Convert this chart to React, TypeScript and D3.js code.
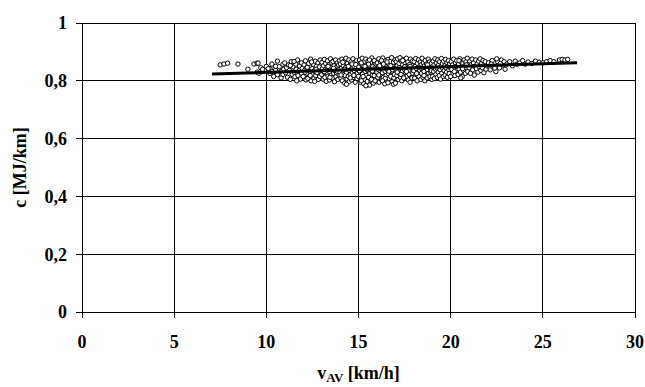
import React from "react";
import * as d3 from "d3";

const xTicks = [0, 5, 10, 15, 20, 25, 30];
const yTicks = [0, 0.2, 0.4, 0.6, 0.8, 1];
const yTickLabels = ["0", "0,2", "0,4", "0,6", "0,8", "1"];

// trend line end points [v, c]
const trendLine: [number, number][] = [[7.05, 0.8235], [26.86, 0.8627]];

// observations [v_AV km/h, c MJ/km]
const lowSpeedPoints: [number, number][] = [
  [7.5,.855],[7.7,.858],[7.9,.861],[8.46,.858],[9.0,.84],[9.33,.858],[9.5,.861],[9.55,.861],
  [9.5,.83],[9.7,.845],[9.9,.838],[10.0,.85],[10.2,.842],[10.4,.832],[9.6,.826],[9.8,.84],
];
const band10to13: [number, number][] = [
  [10.1,.842],[10.2,.826],[10.3,.858],[10.4,.815],[10.5,.836],[10.6,.868],[10.6,.821],[10.7,.849],[10.8,.81],[10.8,.833],[10.9,.857],[10.95,.84],[10.5,.85],[10.3,.832],[10.9,.822],
  [11.0,.862],[11.05,.828],[11.1,.845],[11.15,.812],[11.2,.855],[11.25,.836],[11.3,.805],[11.35,.866],[11.4,.822],[11.45,.848],[11.5,.83],[11.55,.814],[11.6,.858],[11.62,.84],[11.7,.872],[11.72,.818],[11.78,.835],[11.8,.851],[11.85,.806],[11.9,.862],[11.92,.826],[11.95,.843],[11.3,.853],[11.5,.867],[11.65,.8],
  [12.0,.815],[12.05,.855],[12.08,.836],[12.12,.869],[12.15,.803],[12.2,.826],[12.22,.847],[12.28,.812],[12.3,.86],[12.35,.833],[12.4,.875],[12.42,.8],[12.48,.842],[12.5,.821],[12.55,.857],[12.58,.808],[12.6,.835],[12.65,.868],[12.68,.818],[12.72,.85],[12.75,.828],[12.8,.862],[12.82,.805],[12.85,.84],[12.9,.815],[12.92,.872],[12.95,.832],[12.98,.855],[12.1,.83],[12.45,.865],[12.7,.84],[12.25,.808],[12.88,.848],[12.38,.818],[12.62,.798],
];
const band13to16: [number, number][] = [
  [13.0,.822],[13.02,.864],[13.05,.843],[13.08,.806],[13.1,.852],[13.12,.83],[13.15,.874],[13.18,.812],[13.2,.838],[13.22,.86],[13.25,.798],[13.28,.826],[13.3,.848],[13.32,.869],[13.35,.816],[13.38,.836],[13.4,.856],[13.42,.803],[13.45,.83],[13.48,.876],[13.5,.845],[13.52,.82],[13.55,.862],[13.58,.81],[13.6,.84],[13.62,.867],[13.65,.826],[13.68,.852],[13.7,.797],[13.72,.834],[13.75,.872],[13.78,.815],[13.8,.846],[13.82,.827],[13.85,.862],[13.88,.805],[13.9,.84],[13.92,.855],[13.95,.82],[13.98,.87],[13.15,.832],[13.45,.812],[13.65,.843],[13.85,.833],[13.35,.85],
  [14.0,.83],[14.02,.858],[14.05,.81],[14.08,.843],[14.1,.875],[14.12,.8],[14.15,.825],[14.18,.852],[14.2,.836],[14.22,.868],[14.25,.792],[14.28,.818],[14.3,.846],[14.32,.878],[14.35,.83],[14.38,.806],[14.4,.86],[14.42,.84],[14.45,.815],[14.48,.872],[14.5,.797],[14.52,.835],[14.55,.855],[14.58,.822],[14.6,.866],[14.62,.803],[14.65,.843],[14.68,.828],[14.7,.876],[14.72,.812],[14.75,.85],[14.78,.834],[14.8,.864],[14.82,.795],[14.85,.823],[14.88,.845],[14.9,.87],[14.92,.808],[14.95,.838],[14.98,.858],[14.15,.864],[14.35,.788],[14.55,.81],[14.75,.819],[14.95,.826],[14.25,.84],[14.45,.85],[14.65,.858],[14.85,.856],[14.05,.82],
  [15.0,.815],[15.02,.848],[15.05,.872],[15.08,.83],[15.1,.795],[15.12,.86],[15.15,.838],[15.18,.81],[15.2,.878],[15.22,.823],[15.25,.852],[15.28,.79],[15.3,.842],[15.32,.866],[15.35,.805],[15.38,.832],[15.4,.875],[15.42,.818],[15.45,.856],[15.48,.798],[15.5,.836],[15.52,.868],[15.55,.812],[15.58,.845],[15.6,.785],[15.62,.826],[15.65,.862],[15.68,.8],[15.7,.84],[15.72,.879],[15.75,.82],[15.78,.85],[15.8,.792],[15.82,.833],[15.85,.87],[15.88,.808],[15.9,.846],[15.92,.825],[15.95,.858],[15.98,.797],[15.05,.835],[15.25,.815],[15.45,.84],[15.65,.838],[15.85,.818],[15.15,.862],[15.35,.85],[15.55,.858],[15.75,.834],[15.95,.842],[15.4,.783],[15.7,.805],[15.9,.8],[15.15,.8],[15.6,.872],
];
const band16to19: [number, number][] = [
  [16.0,.83],[16.02,.862],[16.05,.812],[16.08,.848],[16.1,.876],[16.12,.795],[16.15,.836],[16.18,.82],[16.2,.866],[16.22,.843],[16.25,.803],[16.28,.855],[16.3,.828],[16.32,.879],[16.35,.812],[16.38,.84],[16.4,.86],[16.42,.79],[16.45,.833],[16.48,.87],[16.5,.818],[16.52,.85],[16.55,.8],[16.58,.838],[16.6,.874],[16.62,.825],[16.65,.857],[16.68,.808],[16.7,.845],[16.72,.867],[16.75,.815],[16.78,.835],[16.8,.88],[16.82,.797],[16.85,.852],[16.88,.828],[16.9,.864],[16.92,.81],[16.95,.842],[16.98,.872],[16.05,.84],[16.25,.87],[16.45,.808],[16.65,.833],[16.85,.838],[16.15,.852],[16.35,.858],[16.55,.865],[16.75,.852],[16.95,.822],[16.3,.8],[16.6,.793],[16.9,.788],[16.1,.82],[16.5,.842],
  [17.0,.792],[17.02,.84],[17.05,.866],[17.08,.818],[17.1,.852],[17.12,.876],[17.15,.805],[17.18,.835],[17.2,.86],[17.22,.825],[17.25,.88],[17.28,.812],[17.3,.845],[17.32,.868],[17.35,.8],[17.38,.832],[17.4,.856],[17.42,.818],[17.45,.873],[17.48,.84],[17.5,.808],[17.52,.862],[17.55,.828],[17.58,.85],[17.6,.878],[17.62,.815],[17.65,.838],[17.68,.865],[17.7,.803],[17.72,.845],[17.75,.822],[17.78,.857],[17.8,.795],[17.82,.875],[17.85,.834],[17.88,.812],[17.9,.852],[17.92,.868],[17.95,.826],[17.98,.842],[17.1,.83],[17.3,.822],[17.5,.848],[17.7,.836],[17.9,.81],[17.2,.845],[17.4,.87],[17.6,.832],[17.8,.85],[17.45,.81],
  [18.0,.835],[18.02,.866],[18.05,.81],[18.08,.85],[18.1,.877],[18.12,.822],[18.15,.842],[18.18,.8],[18.2,.86],[18.22,.83],[18.25,.872],[18.28,.815],[18.3,.848],[18.32,.836],[18.35,.865],[18.38,.805],[18.4,.855],[18.42,.826],[18.45,.878],[18.48,.84],[18.5,.812],[18.52,.862],[18.55,.832],[18.58,.852],[18.6,.8],[18.62,.87],[18.65,.82],[18.68,.845],[18.7,.858],[18.72,.81],[18.75,.838],[18.78,.875],[18.8,.826],[18.82,.85],[18.85,.865],[18.88,.815],[18.9,.842],[18.92,.83],[18.95,.86],[18.98,.805],[18.15,.825],[18.35,.845],[18.55,.818],[18.75,.855],[18.95,.835],
];
const band19to27: [number, number][] = [
  [19.0,.848],[19.02,.815],[19.05,.868],[19.08,.832],[19.1,.855],[19.12,.808],[19.15,.876],[19.18,.84],[19.2,.822],[19.22,.862],[19.25,.845],[19.28,.812],[19.3,.872],[19.32,.83],[19.35,.855],[19.38,.818],[19.4,.866],[19.42,.838],[19.45,.806],[19.48,.85],[19.5,.877],[19.52,.826],[19.55,.86],[19.58,.842],[19.6,.815],[19.62,.868],[19.65,.835],[19.68,.852],[19.7,.82],[19.72,.874],[19.75,.845],[19.78,.83],[19.8,.862],[19.82,.812],[19.85,.85],[19.88,.87],[19.9,.838],[19.92,.825],[19.95,.858],[19.98,.845],
  [20.0,.815],[20.03,.866],[20.06,.84],[20.1,.855],[20.13,.826],[20.16,.875],[20.2,.848],[20.23,.818],[20.26,.862],[20.3,.835],[20.33,.87],[20.36,.852],[20.4,.822],[20.43,.858],[20.46,.84],[20.5,.876],[20.53,.83],[20.56,.865],[20.6,.848],[20.63,.815],[20.66,.86],[20.7,.836],[20.73,.872],[20.76,.852],[20.8,.826],[20.83,.866],[20.86,.845],[20.9,.878],[20.93,.832],[20.96,.858],[20.2,.832],[20.45,.87],[20.65,.842],[20.85,.855],[20.55,.81],
  [21.0,.845],[21.04,.868],[21.08,.826],[21.12,.856],[21.16,.875],[21.2,.838],[21.24,.862],[21.28,.82],[21.32,.85],[21.36,.872],[21.4,.842],[21.44,.858],[21.48,.83],[21.52,.868],[21.56,.848],[21.6,.876],[21.64,.836],[21.68,.86],[21.72,.845],[21.76,.87],[21.8,.828],[21.84,.856],[21.88,.866],[21.92,.84],[21.96,.852],
  [22.05,.862],[22.15,.838],[22.25,.87],[22.35,.85],[22.45,.832],[22.55,.866],[22.65,.845],[22.75,.872],[22.85,.855],[22.95,.84],[22.2,.858],[22.5,.876],[22.7,.86],[22.9,.866],[22.4,.844],
  [23.05,.858],[23.2,.866],[23.35,.852],[23.5,.868],[23.6,.857],[23.75,.862],[23.9,.87],[24.05,.858],[24.2,.865],
  [24.4,.86],[24.6,.868],[24.8,.864],[25.0,.862],[25.2,.866],[25.4,.87],[25.6,.866],[25.9,.872],[26.05,.874],[26.2,.872],[26.35,.874],
];

const points = [...lowSpeedPoints, ...band10to13, ...band13to16, ...band16to19, ...band19to27];

const W = 645, H = 387;
const M = { left: 82, right: 10, top: 23, bottom: 75 };
const FONT = "'Liberation Serif', 'Times New Roman', serif";

export default function App() {
  const x = d3.scaleLinear().domain([0, 30]).range([M.left, W - M.right]);
  const y = d3.scaleLinear().domain([0, 1]).range([H - M.bottom, M.top]);
  const line = d3.line<[number, number]>().x(d => x(d[0])).y(d => y(d[1]));
  const x0 = x(0), x1 = x(30), y0 = y(0), y1 = y(1);
  return (
    <svg width={W} height={H} style={{ position: "absolute", left: 0, top: 0, background: "#fff" }}>
      <rect x={0} y={0} width={W} height={H} fill="#fff" />
      {xTicks.map(t => (
        <line key={"gx" + t} x1={x(t)} x2={x(t)} y1={y1} y2={y0 + 6} stroke="#000" strokeWidth={1} shapeRendering="crispEdges" />
      ))}
      {yTicks.map(t => (
        <line key={"gy" + t} x1={x0 - 6} x2={x1} y1={y(t)} y2={y(t)} stroke="#000" strokeWidth={1} shapeRendering="crispEdges" />
      ))}
      <rect x={x0} y={y1} width={x1 - x0} height={y0 - y1} fill="none" stroke="#000" strokeWidth={1} shapeRendering="crispEdges" />
      {points.map((p, i) => (
        <circle key={i} cx={x(p[0])} cy={y(p[1])} r={2.2} fill="#fff" stroke="#000" strokeWidth={1} />
      ))}
      <path d={line(trendLine) || ""} fill="none" stroke="#000" strokeWidth={3} />
      {yTicks.map((t, i) => (
        <text key={"ty" + t} x={67} y={y(t)} dy="0.35em" textAnchor="end" fontFamily={FONT} fontWeight="bold" fontSize={18}>{yTickLabels[i]}</text>
      ))}
      {xTicks.map(t => (
        <text key={"tx" + t} x={x(t)} y={348} textAnchor="middle" fontFamily={FONT} fontWeight="bold" fontSize={18}>{t}</text>
      ))}
      <text x={(x0 + x1) / 2} y={379} textAnchor="middle" fontFamily={FONT} fontWeight="bold" fontSize={18}>
        v<tspan fontSize={13} dy={3}>AV</tspan><tspan dy={-3}> [km/h]</tspan>
      </text>
      <text transform={`translate(26,${(y0 + y1) / 2}) rotate(-90)`} textAnchor="middle" fontFamily={FONT} fontWeight="bold" fontSize={18}>c [MJ/km]</text>
    </svg>
  );
}
